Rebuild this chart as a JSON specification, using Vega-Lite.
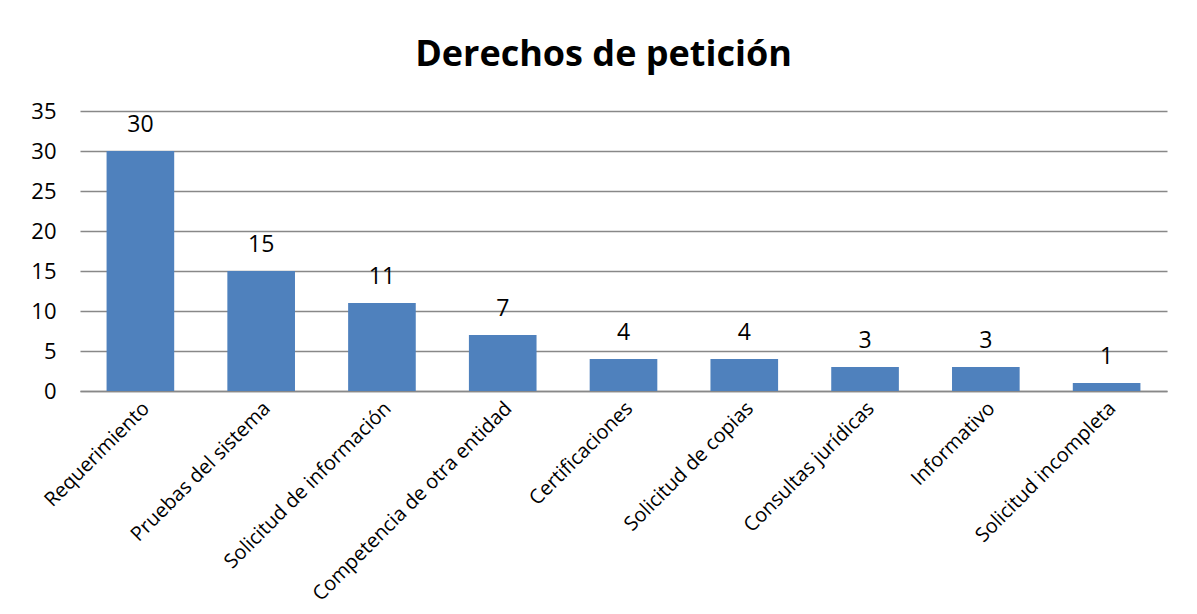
{
  "$schema": "https://vega.github.io/schema/vega-lite/v6.json",
  "width": 1087,
  "height": 280,
  "autosize": {"type": "none"},
  "padding": {"left": 80, "top": 111, "right": 30, "bottom": 223},
  "background": "white",
  "title": {
    "text": "Derechos de petición",
    "fontSize": 36,
    "font": "Open Sans",
    "fontWeight": "bold",
    "color": "#000000",
    "anchor": "middle",
    "offset": 26,
    "dx": -20
  },
  "data": {
    "values": [
      {"categoria": "Requerimiento", "valor": 30},
      {"categoria": "Pruebas del sistema", "valor": 15},
      {"categoria": "Solicitud de información", "valor": 11},
      {"categoria": "Competencia de otra entidad", "valor": 7},
      {"categoria": "Certificaciones", "valor": 4},
      {"categoria": "Solicitud de copias", "valor": 4},
      {"categoria": "Consultas jurídicas", "valor": 3},
      {"categoria": "Informativo", "valor": 3},
      {"categoria": "Solicitud incompleta", "valor": 1}
    ]
  },
  "encoding": {
    "x": {
      "field": "categoria",
      "type": "nominal",
      "sort": null,
      "scale": {"paddingInner": 0.44, "paddingOuter": 0.22},
      "axis": {
        "title": null,
        "labelAngle": -45,
        "labelAlign": "right",
        "labelBaseline": "middle",
        "labelFont": "Open Sans",
        "labelFontSize": 20,
        "labelColor": "#000000",
        "labelPadding": 14,
        "labelOffset": 6,
        "ticks": false,
        "domainColor": "#888888",
        "domainWidth": 1.5,
        "labelLimit": 400
      }
    },
    "y": {
      "field": "valor",
      "type": "quantitative",
      "scale": {"domain": [0, 35]},
      "axis": {
        "title": null,
        "values": [0, 5, 10, 15, 20, 25, 30, 35],
        "labelFont": "Open Sans",
        "labelFontSize": 22,
        "labelColor": "#000000",
        "labelPadding": 24,
        "ticks": false,
        "domain": false,
        "gridColor": "#888888",
        "gridWidth": 1.3
      }
    }
  },
  "layer": [
    {"mark": {"type": "bar", "color": "#4F81BD"}},
    {
      "mark": {"type": "text", "dy": -26, "font": "Open Sans", "fontSize": 23, "color": "#000000"},
      "encoding": {"text": {"field": "valor", "type": "quantitative"}}
    }
  ],
  "config": {"view": {"stroke": null}}
}
